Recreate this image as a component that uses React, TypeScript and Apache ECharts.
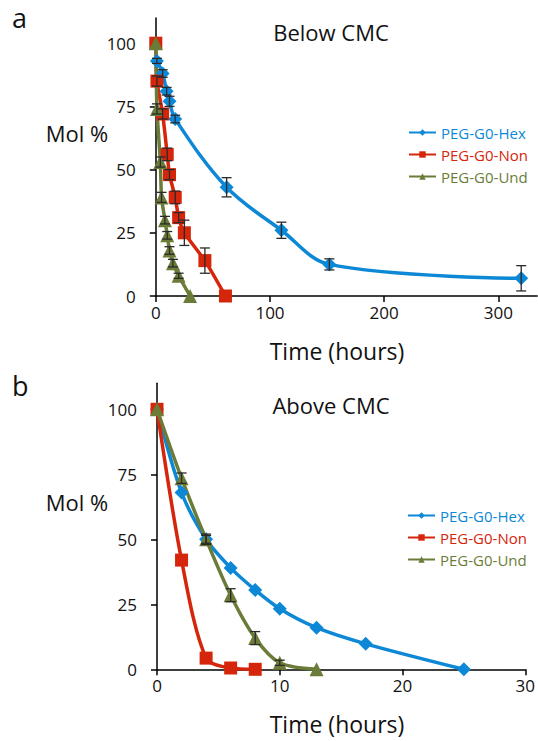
import React, { useEffect, useRef } from "react";
import * as echarts from "echarts";

const seriesNames = ["PEG-G0-Hex", "PEG-G0-Non", "PEG-G0-Und"];
const colors = ["#0d88d6", "#d5250a", "#6b7c38"];
const yTicks = [0, 25, 50, 75, 100];
const topXTicks = [0, 100, 200, 300];
const bottomXTicks = [0, 10, 20, 30];

// Panel a: Below CMC
const topHexT = [1, 6, 9.5, 12, 17, 62, 110, 152, 320];
const topHexV = [93, 88, 81, 77, 70, 43, 26, 12.5, 7];
const topHexE = [1, 1.5, 1.5, 2, 1.5, 3.8, 3.2, 2.2, 5];

const topNonT = [0, 1, 6, 10, 12, 17, 20, 25, 43, 61];
const topNonV = [100, 85, 72, 56, 48, 39, 31, 25, 14, 0];
const topNonE = [0, 2, 2, 2.5, 2, 2.5, 2, 5, 5, 0];

const topUndT = [0, 1, 4, 5, 8, 10, 12, 15, 20, 30];
const topUndV = [100, 74, 53, 39, 30, 24, 18, 13, 8, 0];
const topUndE = [0, 2, 2, 2, 1.5, 1.5, 1.5, 1.5, 1, 0];

// Panel b: Above CMC
const botHexT = [0, 2, 4, 6, 8, 10, 13, 17, 25];
const botHexV = [100, 68, 50, 39, 30.5, 23.3, 16, 9.8, 0];
const botHexE = [0, 0, 2, 0, 0, 0, 0, 0, 0];

const botNonT = [0, 2, 4, 6, 8];
const botNonV = [100, 42, 4.3, 0.5, 0];

const botUndT = [0, 2, 4, 6, 8, 10, 13];
const botUndV = [100, 73.5, 50, 28.5, 12, 2.5, 0];
const botUndE = [0, 2, 1.5, 2.5, 2.5, 1, 0];

const FONT = "Open Sans";

function pairs(t: number[], v: number[]) {
  return t.map((x, i) => [x, v[i]]);
}
function errs(t: number[], v: number[], e: number[]) {
  return t
    .map((x, i) => [x, v[i] - e[i], v[i] + e[i], e[i]])
    .filter((d) => d[3] > 0)
    .map((d) => [d[0], d[1], d[2]]);
}

const errorRender = (_params: any, api: any) => {
  const x = api.value(0);
  const lo = api.coord([x, api.value(1)]);
  const hi = api.coord([x, api.value(2)]);
  const w = 5;
  const style = { stroke: "#2a2a2a", lineWidth: 1.3 };
  return {
    type: "group",
    children: [
      { type: "line", shape: { x1: lo[0], y1: lo[1], x2: hi[0], y2: hi[1] }, style },
      { type: "line", shape: { x1: lo[0] - w, y1: lo[1], x2: lo[0] + w, y2: lo[1] }, style },
      { type: "line", shape: { x1: hi[0] - w, y1: hi[1], x2: hi[0] + w, y2: hi[1] }, style },
    ],
  };
};

function axisCommon(ticks: number[], margin: number) {
  return {
    axisLine: { show: true, onZero: false, lineStyle: { color: "#000", width: 1.5 } },
    axisTick: { show: true, length: 6, customValues: ticks, lineStyle: { color: "#000", width: 1.5 } },
    axisLabel: { customValues: ticks, fontSize: 17, color: "#111", fontFamily: FONT, margin },
    splitLine: { show: false },
  };
}

export default function App() {
  const ref = useRef<HTMLDivElement>(null);
  useEffect(() => {
    if (!ref.current) return;
    const chart = echarts.init(ref.current, undefined, { renderer: "svg" });
    const symbols = ["diamond", "rect", "triangle"];
    const symSizes = [14, 13, 14];

    const lineSeries = (idx: number, grid: number, data: number[][], smooth: number) => ({
      type: "line",
      name: seriesNames[idx],
      xAxisIndex: grid,
      yAxisIndex: grid,
      data,
      smooth,
      symbol: symbols[idx],
      symbolSize: symSizes[idx],
      showSymbol: true,
      lineStyle: { color: colors[idx], width: 3.5 },
      itemStyle: { color: colors[idx] },
      z: 3,
    });
    const errSeries = (grid: number, data: number[][]) => ({
      type: "custom",
      name: "err",
      xAxisIndex: grid,
      yAxisIndex: grid,
      data,
      renderItem: errorRender,
      encode: { x: 0, y: [1, 2] },
      z: 4,
      silent: true,
    });

    const legendData = seriesNames.map((n, i) => ({ name: n, textStyle: { color: colors[i] } }));
    const legendCommon = {
      orient: "vertical",
      padding: 0,
      itemWidth: 27,
      itemHeight: 8,
      itemGap: 7,
      textStyle: { fontSize: 15, fontFamily: FONT },
      data: legendData,
    };

    const option: any = {
      animation: false,
      textStyle: { fontFamily: FONT },
      grid: [
        { left: 155.8, top: 17.9, width: 381.4, height: 278.1 },
        { left: 157, top: 383.3, width: 369, height: 286 },
      ],
      xAxis: [
        { type: "value", gridIndex: 0, min: 0, max: 334, ...axisCommon(topXTicks, 8) },
        { type: "value", gridIndex: 1, min: 0, max: 30, ...axisCommon(bottomXTicks, 8) },
      ],
      yAxis: [
        { type: "value", gridIndex: 0, min: 0, max: 110, ...axisCommon(yTicks, 20) },
        { type: "value", gridIndex: 1, min: 0, max: 110, ...axisCommon(yTicks, 20) },
      ],
      legend: [
        { ...legendCommon, left: 408, top: 125 },
        { ...legendCommon, left: 407, top: 508 },
      ],
      series: [
        lineSeries(0, 0, pairs(topHexT, topHexV), 0.35),
        lineSeries(1, 0, pairs(topNonT, topNonV), 0.2),
        lineSeries(2, 0, pairs(topUndT, topUndV), 0.2),
        errSeries(0, errs(topHexT, topHexV, topHexE)),
        errSeries(0, errs(topNonT, topNonV, topNonE)),
        errSeries(0, errs(topUndT, topUndV, topUndE)),
        lineSeries(0, 1, pairs(botHexT, botHexV), 0.3),
        lineSeries(1, 1, pairs(botNonT, botNonV), 0.3),
        lineSeries(2, 1, pairs(botUndT, botUndV), 0.3),
        errSeries(1, errs(botHexT, botHexV, botHexE)),
        errSeries(1, errs(botUndT, botUndV, botUndE)),
      ],
      graphic: [
        { type: "text", left: 12, top: 4, style: { text: "a", fontSize: 27, fontFamily: FONT, fill: "#111" } },
        { type: "text", left: 12, top: 372, style: { text: "b", fontSize: 27, fontFamily: FONT, fill: "#111" } },
        { type: "text", x: 331, y: 32, style: { text: "Below CMC", fontSize: 22, fontFamily: FONT, fill: "#111", align: "center", verticalAlign: "middle" } },
        { type: "text", x: 331, y: 405, style: { text: "Above CMC", fontSize: 22, fontFamily: FONT, fill: "#111", align: "center", verticalAlign: "middle" } },
        { type: "text", x: 77, y: 133, style: { text: "Mol %", fontSize: 22, fontFamily: FONT, fill: "#111", align: "center", verticalAlign: "middle" } },
        { type: "text", x: 77, y: 502, style: { text: "Mol %", fontSize: 22, fontFamily: FONT, fill: "#111", align: "center", verticalAlign: "middle" } },
        { type: "text", x: 337, y: 351, style: { text: "Time (hours)", fontSize: 23, fontFamily: FONT, fill: "#111", align: "center", verticalAlign: "middle" } },
        { type: "text", x: 337, y: 724, style: { text: "Time (hours)", fontSize: 23, fontFamily: FONT, fill: "#111", align: "center", verticalAlign: "middle" } },
      ],
    };
    chart.setOption(option);
    return () => chart.dispose();
  }, []);
  return (
    <div
      ref={ref}
      style={{ position: "fixed", left: 0, top: 0, width: 538, height: 741, background: "#fff" }}
    />
  );
}
